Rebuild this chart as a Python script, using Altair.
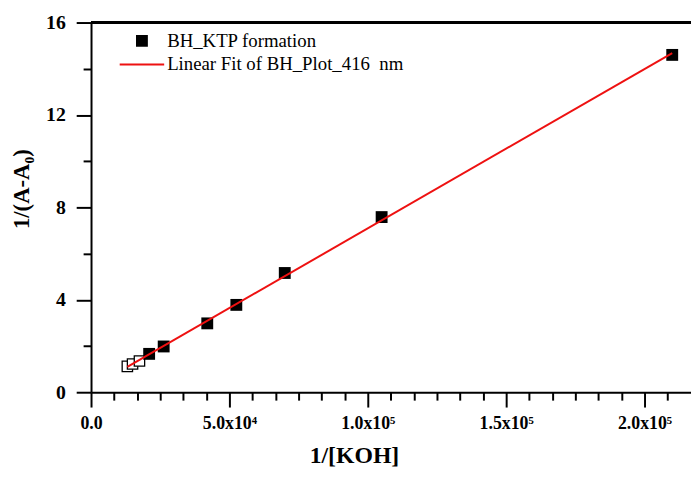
import altair as alt
import pandas as pd

# ---- data ----
x_open = [13125, 15000, 17500]          # overlapping (hollow-looking) cluster
y_open = [1.12, 1.22, 1.35]
x_filled = [21000, 26250, 42000, 52500, 70000, 105000, 210000]
y_filled = [1.66, 1.98, 2.98, 3.78, 5.16, 7.58, 14.6]
series_names = ["BH_KTP formation", "Linear Fit of BH_Plot_416\u00a0 nm"]
x_major = [0, 50000, 100000, 150000, 200000]
x_major_labels = ["0.0", "5.0x10\u2074", "1.0x10\u2075", "1.5x10\u2075", "2.0x10\u2075"]
y_major = [0, 4, 8, 12, 16]

df_open = pd.DataFrame({"x": x_open, "y": y_open, "series": series_names[0]})
df_filled = pd.DataFrame({"x": x_filled, "y": y_filled, "series": series_names[0]})
df_all = pd.concat([df_open, df_filled], ignore_index=True)

FONT = "Liberation Serif"
X_MAX = 216786
x_tick_values = [i * 50000 / 6 for i in range(0, 26)]
y_tick_values = list(range(0, 17, 2))

label_map = " : ".join(
    f"abs(datum.value - {v}) < 1 ? '{t}'" for v, t in zip(x_major, x_major_labels)
) + " : ''"

x_scale = alt.Scale(domain=[0, X_MAX], nice=False, zero=False)
y_scale = alt.Scale(domain=[0, 16], nice=False)

x_axis = alt.Axis(
    values=x_tick_values,
    labelExpr=label_map,
    tickSize={"condition": {"test": "abs(datum.value % 50000) < 1", "value": 15}, "value": 8},
    labelOverlap=False,
    labelFlush=False,
    labelFontSize=18,
    labelPadding=8,
    title="1/[KOH]",
    titleFontSize=24,
    titlePadding=11,
    titleX=266,
)
y_axis = alt.Axis(
    values=y_tick_values,
    labelExpr="datum.value % 4 === 0 ? datum.label : ''",
    tickSize={"condition": {"test": "datum.value % 4 === 0", "value": 15}, "value": 8},
    labelOverlap=False,
    labelFlush=False,
    labelFontSize=20,
    labelPadding=11,
    title="1/(A-A\u2080)",
    titleFontSize=23,
    titlePadding=12,
    titleY=168,
)

color_scale = alt.Scale(domain=series_names, range=["black", "#ee1111"])
shape_scale = alt.Scale(domain=series_names, range=["square", "M-4.5,0H4.5"])
sym_color = f"datum.value === '{series_names[0]}' ? 'black' : '#ee1111'"
legend = alt.Legend(
    title=None,
    orient="none",
    legendX=42,
    legendY=9,
    padding=0,
    rowPadding=4,
    labelFont=FONT,
    labelFontSize=19,
    labelFontWeight="normal",
    labelColor="black",
    labelLimit=0,
    labelOffset=16,
    symbolSize=100,
    symbolStrokeWidth=2,
    symbolStrokeColor={"expr": sym_color},
    symbolFillColor={"expr": sym_color},
)

open_pts = alt.Chart(df_open).mark_point(
    shape="square", filled=True, fill="white", stroke="black", strokeWidth=1.3, size=110, opacity=1
).encode(
    x=alt.X("x:Q", scale=x_scale, axis=x_axis),
    y=alt.Y("y:Q", scale=y_scale, axis=y_axis),
)

filled_pts = alt.Chart(df_filled).mark_point(
    filled=True, size=144, opacity=1
).encode(
    x=alt.X("x:Q", scale=x_scale, axis=x_axis),
    y=alt.Y("y:Q", scale=y_scale, axis=y_axis),
    color=alt.Color("series:N", scale=color_scale, legend=legend),
    shape=alt.Shape("series:N", scale=shape_scale, legend=legend),
)

fit_line = alt.Chart(df_all).transform_regression("x", "y").transform_calculate(
    series=f"'{series_names[1]}'"
).mark_line(strokeWidth=2).encode(
    x=alt.X("x:Q", scale=x_scale, axis=x_axis),
    y=alt.Y("y:Q", scale=y_scale, axis=y_axis),
    color=alt.Color("series:N", scale=color_scale, legend=legend),
)

top_border = alt.Chart(df_all).mark_rule(color="black", strokeWidth=2).encode(
    y=alt.value(0)
)

chart = alt.layer(open_pts, filled_pts, fit_line, top_border).properties(
    width=607,
    height=374,
    autosize=alt.AutoSizeParams(type="none"),
    padding={"left": 84, "top": 12, "right": 0, "bottom": 78},
).configure_view(stroke=None).configure_axis(
    grid=False,
    domainColor="black",
    domainWidth=2,
    tickColor="black",
    tickWidth=2,
    labelFont=FONT,
    labelFontWeight="bold",
    labelColor="black",
    titleFont=FONT,
    titleFontWeight="bold",
    titleColor="black",
)

chart.save("out.html", embed_options={"renderer": "svg", "actions": False})
